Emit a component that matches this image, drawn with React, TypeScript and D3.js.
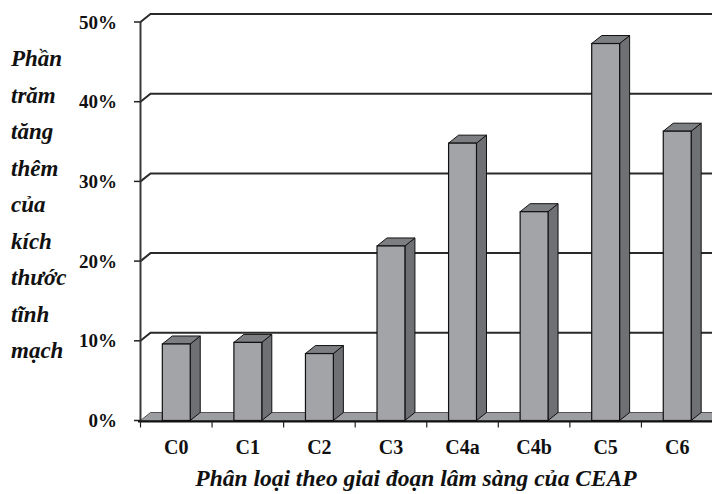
import React, { useRef, useEffect } from "react";
import { select, scaleBand, scaleLinear } from "d3";

const categories = ["C0", "C1", "C2", "C3", "C4a", "C4b", "C5", "C6"];
const values = [9.6, 9.8, 8.4, 21.9, 34.8, 26.2, 47.3, 36.3];
const yTicks = [0, 10, 20, 30, 40, 50];
const yTitleLines = ["Phần", "trăm", "tăng", "thêm", "của", "kích", "thước", "tĩnh", "mạch"];
const xTitle = "Phân loại theo giai đoạn lâm sàng của CEAP";

const App = () => {
  const svgRef = useRef(null);

  useEffect(() => {
    const svg = select(svgRef.current);
    svg.selectAll("*").remove();

    const font = "'Liberation Serif', 'Times New Roman', serif";
    // depth offset of the 3d look
    const dx = 10;
    const dy = -8;

    const x = scaleBand().domain(categories).range([140.5, 713]).padding(0);
    const y = scaleLinear().domain([0, 50]).range([420.5, 22]);
    const bw = x.bandwidth() * 0.39;

    // floor
    const y0 = y(0);
    svg
      .append("polygon")
      .attr("points", `140.5,${y0} 713,${y0} ${713 + dx},${y0 + dy} ${140.5 + dx},${y0 + dy}`)
      .attr("fill", "#9c9da1")
      .attr("stroke", "#555")
      .attr("stroke-width", 1);

    // gridlines on back wall + diagonal at the side
    const grid = svg.append("g");
    yTicks
      .filter((t) => t > 0)
      .forEach((t) => {
        const yy = y(t);
        grid
          .append("path")
          .attr("d", `M140.5,${yy} L${140.5 + dx},${yy + dy} L720,${yy + dy}`)
          .attr("fill", "none")
          .attr("stroke", "#2a2a2a")
          .attr("stroke-width", 2);
      });

    // left axis
    svg
      .append("line")
      .attr("x1", 140.5)
      .attr("x2", 140.5)
      .attr("y1", y(50))
      .attr("y2", y0)
      .attr("stroke", "#3a3a3a")
      .attr("stroke-width", 2);

    yTicks.forEach((t) => {
      svg
        .append("line")
        .attr("x1", 134)
        .attr("x2", 140.5)
        .attr("y1", y(t))
        .attr("y2", y(t))
        .attr("stroke", "#222")
        .attr("stroke-width", 1.5);
      svg
        .append("text")
        .attr("x", 117)
        .attr("y", y(t))
        .attr("dy", "0.35em")
        .attr("text-anchor", "end")
        .attr("font-family", font)
        .attr("font-weight", "bold")
        .attr("font-size", 19)
        .attr("fill", "#111")
        .text(`${t}%`);
    });

    // bars
    const bars = svg.append("g");
    categories.forEach((c, i) => {
      const x0 = x(c) + (x.bandwidth() - bw) / 2;
      const yt = y(values[i]);
      bars
        .append("polygon")
        .attr("points", `${x0 + bw},${yt} ${x0 + bw + dx},${yt + dy} ${x0 + bw + dx},${y0 + dy} ${x0 + bw},${y0}`)
        .attr("fill", "#6f7074")
        .attr("stroke", "#111")
        .attr("stroke-width", 1)
        .attr("stroke-linejoin", "round");
      bars
        .append("polygon")
        .attr("points", `${x0},${yt} ${x0 + dx},${yt + dy} ${x0 + bw + dx},${yt + dy} ${x0 + bw},${yt}`)
        .attr("fill", "#7d7e82")
        .attr("stroke", "#111")
        .attr("stroke-width", 1)
        .attr("stroke-linejoin", "round");
      bars
        .append("rect")
        .attr("x", x0)
        .attr("y", yt)
        .attr("width", bw)
        .attr("height", y0 - yt)
        .attr("fill", "#a3a4a8")
        .attr("stroke", "#111")
        .attr("stroke-width", 1.2);
    });

    // bottom axis
    svg
      .append("line")
      .attr("x1", 138)
      .attr("x2", 712)
      .attr("y1", y0 + 1)
      .attr("y2", y0 + 1)
      .attr("stroke", "#111")
      .attr("stroke-width", 2.2);

    categories.forEach((c) => {
      svg
        .append("line")
        .attr("x1", x(c))
        .attr("x2", x(c))
        .attr("y1", y0 + 1)
        .attr("y2", y0 + 7)
        .attr("stroke", "#222")
        .attr("stroke-width", 1.2);
      svg
        .append("text")
        .attr("x", x(c) + x.bandwidth() / 2)
        .attr("y", 454)
        .attr("text-anchor", "middle")
        .attr("font-family", font)
        .attr("font-weight", "bold")
        .attr("font-size", 20)
        .attr("fill", "#111")
        .text(c);
    });

    // axis titles
    svg
      .append("text")
      .attr("x", 416)
      .attr("y", 486)
      .attr("text-anchor", "middle")
      .attr("font-family", font)
      .attr("font-weight", "bold")
      .attr("font-style", "italic")
      .attr("font-size", 23.5)
      .attr("fill", "#111")
      .text(xTitle);

    yTitleLines.forEach((l, i) => {
      svg
        .append("text")
        .attr("x", 11)
        .attr("y", 66 + i * 36.5)
        .attr("font-family", font)
        .attr("font-weight", "bold")
        .attr("font-style", "italic")
        .attr("font-size", 23)
        .attr("fill", "#111")
        .text(l);
    });
  }, []);

  return (
    <svg
      ref={svgRef}
      width={712}
      height={494}
      style={{ position: "absolute", left: 0, top: 0, background: "#fff" }}
    />
  );
};

export default App;
